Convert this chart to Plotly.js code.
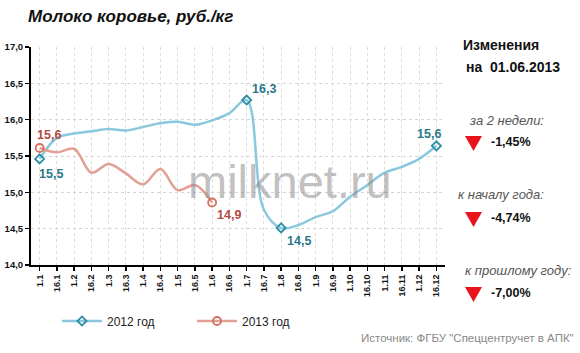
<!DOCTYPE html>
<html>
<head>
<meta charset="utf-8">
<script src="https://cdn.plot.ly/plotly-3.0.1.min.js"></script>
<style>html,body{margin:0;padding:0;background:#fff;}#chart{width:580px;height:353px;}</style>
</head>
<body>
<div id="chart"></div>
<script>
// Data
const categories = ["1.1","16.1","1.2","16.2","1.3","16.3","1.4","16.4","1.5","16.5","1.6","16.6",
  "1.7","16.7","1.8","16.8","1.9","16.9","1.10","16.10","1.11","16.11","1.12","16.12"];
const values2012 = [15.46,15.75,15.81,15.84,15.87,15.85,15.90,15.95,15.97,15.93,15.99,16.09,
  16.27,14.76,14.51,14.55,14.66,14.74,14.94,15.10,15.27,15.35,15.46,15.64];
const values2013 = [15.61,15.55,15.60,15.27,15.39,15.26,15.11,15.32,15.03,15.10,14.86];
const labels2012 = ["15,5","","","","","","","","","","","","16,3","","14,5","","","","","","","","","15,6"];
const labels2013 = ["15,6","","","","","","","","","","14,9"];
const seriesNames = ["2012 год","2013 год"];
const yTickVals = [14.0,14.5,15.0,15.5,16.0,16.5,17.0];
const changeLabels = ["за 2 недели:","к началу года:","к прошлому году:"];
const changeValues = ["-1,45%","-4,74%","-7,00%"];

const L = 31, R = 445, T = 47, B = 265, W = 580, H = 353;
const px = x => (x - L) / (R - L);
const py = y => (B - y) / (B - T);
const ff = "Liberation Sans, Arial, sans-serif";

const blueLine = "#8ac8dd", blueMark = "#2c8ea3", blueText = "#2a7888";
const redLine = "#e3a095", redMark = "#d4705f", redText = "#b24a44";

function pick(arr, labels) {
  const xs = [], idx = [], ys = [], ts = [];
  labels.forEach((t, i) => { if (t) { xs.push(categories[i]); idx.push(i); ys.push(arr[i]); ts.push(t); } });
  return {xs, idx, ys, ts};
}
const p12 = pick(values2012, labels2012);
const p13 = pick(values2013, labels2013);

const traces = [
  {x: categories, y: values2012, type: "scatter", mode: "lines", showlegend: false,
    line: {color: blueLine, width: 2.5, shape: "spline", smoothing: 1}},
  {x: categories.slice(0, values2013.length), y: values2013, type: "scatter", mode: "lines", showlegend: false,
    line: {color: redLine, width: 2.5, shape: "spline", smoothing: 1}},
  {x: p12.xs, y: p12.ys, type: "scatter", mode: "markers", showlegend: false, cliponaxis: false,
    marker: {symbol: "diamond-open", size: 7, color: blueMark, line: {width: 1.8, color: blueMark}}},
  {x: p13.xs, y: p13.ys, type: "scatter", mode: "markers", showlegend: false, cliponaxis: false,
    marker: {symbol: "circle-open", size: 8, color: redMark, line: {width: 1.8, color: redMark}}},
  {x: [null], y: [null], name: seriesNames[0], type: "scatter", mode: "lines+markers",
    line: {color: blueLine, width: 2.5},
    marker: {symbol: "diamond-open", size: 7, color: blueMark, line: {width: 1.8, color: blueMark}}},
  {x: [null], y: [null], name: seriesNames[1], type: "scatter", mode: "lines+markers",
    line: {color: redLine, width: 2.5},
    marker: {symbol: "circle-open", size: 8, color: redMark, line: {width: 1.8, color: redMark}}}
];

const ann = [];
const shapes = [];
// data labels, placed at the data points (category index) with small offsets
const off12 = [[11, -15], [17, 11], [18, -13], [-7, 12]];
const off13 = [[9, 13], [17, -12]];
p12.idx.forEach((x, i) => ann.push({x: x, y: p12.ys[i], text: "<b>" + p12.ts[i] + "</b>", xref: "x", yref: "y",
  showarrow: false, xanchor: "center", yanchor: "middle", xshift: off12[i][0], yshift: off12[i][1],
  font: {family: ff, size: 12.5, color: blueText}}));
p13.idx.forEach((x, i) => ann.push({x: x, y: p13.ys[i], text: "<b>" + p13.ts[i] + "</b>", xref: "x", yref: "y",
  showarrow: false, xanchor: "center", yanchor: "middle", xshift: off13[i][0], yshift: off13[i][1],
  font: {family: ff, size: 12.5, color: redText}}));

function addText(text, x, y, opts) {
  ann.push(Object.assign({
    text: text, xref: "paper", yref: "paper", x: px(x), y: py(y),
    xanchor: "left", yanchor: "middle", showarrow: false,
    font: {family: ff, size: 12, color: "#222"}
  }, opts || {}));
}
function addTriangle(x0, y0) {
  shapes.push({type: "path", xref: "paper", yref: "paper",
    path: "M " + px(x0) + "," + py(y0) + " L " + px(x0 + 17) + "," + py(y0) + " L " + px(x0 + 8.5) + "," + py(y0 + 15) + " Z",
    fillcolor: "#e8141b", line: {width: 0}});
}
addText("milknet.ru", 290, 181, {xanchor: "center", font: {family: ff, size: 47, color: "rgba(140,140,140,0.55)"}});
addText("<b>Изменения</b>", 461, 45, {font: {family: ff, size: 14, color: "#111"}});
addText("<b>на  01.06.2013</b>", 464, 67, {font: {family: ff, size: 14, color: "#111"}});
const lx = [467, 456, 463], ly = [120, 195, 270], vy = [142, 218, 293];
changeLabels.forEach((c, i) => {
  addText("<i>" + c + "</i>", lx[i], ly[i], {font: {family: ff, size: 13, color: "#555"}});
  addTriangle(465, vy[i] - 6);
  addText("<b>" + changeValues[i] + "</b>", 489, vy[i], {font: {family: ff, size: 12.5, color: "#111"}});
});
addText('Источник: ФГБУ "Спеццентручет в АПК"', 576, 338, {xanchor: "right", font: {family: ff, size: 11.5, color: "#888"}});

const layout = {
  width: W, height: H,
  margin: {l: L, r: W - R, t: T, b: H - B, pad: 0},
  paper_bgcolor: "#ffffff", plot_bgcolor: "#ffffff",
  separators: ", ",
  showlegend: true,
  title: {text: "<b><i>Молоко коровье, руб./кг</i></b>", x: 28 / W, xanchor: "left", xref: "container",
    y: 1 - 16 / H, yanchor: "middle", yref: "container", font: {family: ff, size: 17, color: "#111"}},
  xaxis: {
    type: "category", range: [-0.5, categories.length - 0.5],
    showline: true, linecolor: "#000", linewidth: 2,
    ticks: "outside", ticklen: 4, tickwidth: 1.5, tickcolor: "#000",
    tickangle: -90, tickfont: {family: ff, size: 9, color: "#111", weight: "bold"},
    showgrid: true, gridcolor: "#dcdcdc", griddash: "dot", gridwidth: 1,
    zeroline: false, fixedrange: true
  },
  yaxis: {
    range: [14, 17], tickvals: yTickVals, tickformat: ".1f",
    showline: true, linecolor: "#000", linewidth: 2,
    ticks: "outside", ticklen: 4, tickwidth: 1.5, tickcolor: "#000",
    tickfont: {family: ff, size: 9.5, color: "#111", weight: "bold"},
    showgrid: true, gridcolor: "#d6d6d6", griddash: "dot", gridwidth: 1,
    zeroline: false, fixedrange: true
  },
  legend: {orientation: "h", x: px(57), y: py(321), xanchor: "left", yanchor: "middle",
    font: {family: ff, size: 12, color: "#222"}, itemwidth: 40, traceorder: "normal",
    entrywidth: 80, bgcolor: "rgba(0,0,0,0)"},
  annotations: ann,
  shapes: shapes
};

Plotly.newPlot("chart", traces, layout, {staticPlot: true, displayModeBar: false});
</script>
</body>
</html>
